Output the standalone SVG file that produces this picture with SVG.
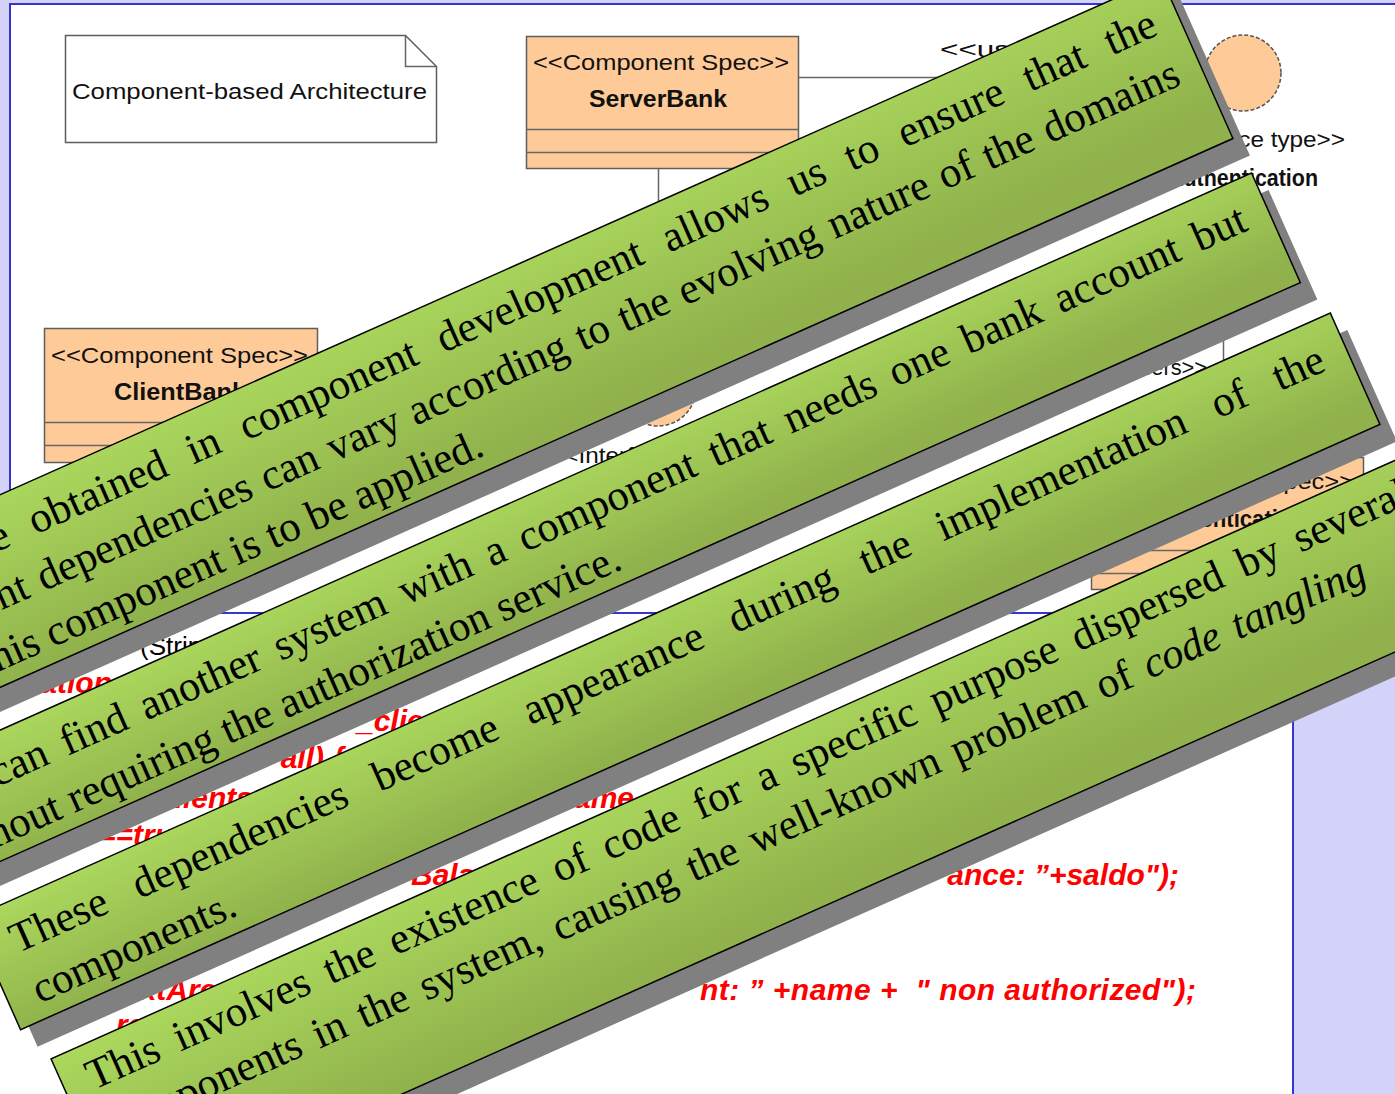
<svg xmlns="http://www.w3.org/2000/svg" width="1395" height="1094" viewBox="0 0 1395 1094">
  <defs>
    <linearGradient id="bannerFill" x1="0" y1="0" x2="0.25" y2="1">
      <stop offset="0" stop-color="#abd85d"/>
      <stop offset="1" stop-color="#90b14b"/>
    </linearGradient>
    <style>
      .panel{fill:#ffffff;stroke:#3535d0;stroke-width:2}
      .uml-box{fill:#fecb98;stroke:#5e5e5e;stroke-width:1.5}
      .uml-note{fill:#ffffff;stroke:#5e5e5e;stroke-width:1.5}
      .uml-line{stroke:#666666;stroke-width:1.5;fill:none}
      .iface{fill:#fecb98;stroke:#555555;stroke-width:1.5;stroke-dasharray:4 2}
      .ut{font-family:"Liberation Sans",Arial,sans-serif;font-size:22px;fill:#111111}
      .ub{font-family:"Liberation Sans",Arial,sans-serif;font-size:23px;font-weight:bold;fill:#111111}
      .code{font-family:"Liberation Sans",Arial,sans-serif;font-size:30px;font-weight:bold;font-style:italic;fill:#ff0000}
      .code-plain{font-family:"Liberation Sans",Arial,sans-serif;font-size:26px;fill:#000000}
      .banner{fill:url(#bannerFill);stroke:#000000;stroke-width:1.5}
      .shadow{fill:#808080}
      .bt{font-family:"Liberation Serif","Times New Roman",serif;font-size:43px;fill:#000000}
    </style>
  </defs>

  <!-- slide background -->
  <rect x="0" y="0" width="1395" height="1094" fill="#d3d3f9"/>

  <!-- component diagram panel -->
  <rect class="panel" x="10" y="4" width="1400" height="609"/>

  <g id="note-architecture">
    <path class="uml-note" d="M65.5,35.5 H405.5 L436.5,66.5 V142.5 H65.5 Z"/>
    <path class="uml-line" d="M405.5,35.5 V66.5 H436.5"/>
    <text class="ut" x="72" y="99" textLength="355" lengthAdjust="spacingAndGlyphs">Component-based Architecture</text>
  </g>

  <g id="connectors">
    <line class="uml-line" x1="798.5" y1="77.5" x2="1205" y2="77.5"/>
    <text class="ut" x="940" y="57" textLength="140" lengthAdjust="spacingAndGlyphs">&lt;&lt;uses&gt;&gt;</text>
    <line class="uml-line" x1="658.5" y1="169" x2="658.5" y2="350"/>
    <line class="uml-line" x1="1223.5" y1="192" x2="1223.5" y2="457"/>
    <text class="ut" x="1207" y="375" text-anchor="end" textLength="105" lengthAdjust="spacingAndGlyphs">&lt;&lt;offers&gt;&gt;</text>
  </g>

  <g id="server-bank">
    <rect class="uml-box" x="526.5" y="36.5" width="272" height="132"/>
    <line class="uml-line" x1="526.5" y1="129.5" x2="798.5" y2="129.5"/>
    <line class="uml-line" x1="526.5" y1="152.5" x2="798.5" y2="152.5"/>
    <text class="ut" x="533" y="70" textLength="256" lengthAdjust="spacingAndGlyphs">&lt;&lt;Component Spec&gt;&gt;</text>
    <text class="ub" x="589" y="107" textLength="138" lengthAdjust="spacingAndGlyphs">ServerBank</text>
  </g>

  <g id="client-bank">
    <rect class="uml-box" x="44.5" y="328.5" width="273" height="134"/>
    <line class="uml-line" x1="44.5" y1="422.5" x2="317.5" y2="422.5"/>
    <line class="uml-line" x1="44.5" y1="445.5" x2="317.5" y2="445.5"/>
    <text class="ut" x="51" y="363" textLength="257" lengthAdjust="spacingAndGlyphs">&lt;&lt;Component Spec&gt;&gt;</text>
    <text class="ub" x="114" y="400" textLength="132" lengthAdjust="spacingAndGlyphs">ClientBank</text>
  </g>

  <g id="interface-authentication">
    <circle class="iface" cx="1243" cy="73" r="38"/>
    <text class="ut" x="1141" y="147" textLength="204" lengthAdjust="spacingAndGlyphs">&lt;&lt;Interface type&gt;&gt;</text>
    <text class="ub" x="1168" y="186" textLength="150" lengthAdjust="spacingAndGlyphs">Authentication</text>
  </g>

  <g id="interface-bank">
    <circle class="iface" cx="658" cy="388" r="38"/>
    <text class="ut" x="550" y="463" textLength="204" lengthAdjust="spacingAndGlyphs">&lt;&lt;Interface type&gt;&gt;</text>
  </g>

  <g id="authentication-component">
    <rect class="uml-box" x="1091.5" y="457.5" width="272" height="132"/>
    <line class="uml-line" x1="1091.5" y1="550.5" x2="1363.5" y2="550.5"/>
    <line class="uml-line" x1="1091.5" y1="573.5" x2="1363.5" y2="573.5"/>
    <text class="ut" x="1098" y="489" textLength="256" lengthAdjust="spacingAndGlyphs">&lt;&lt;Component Spec&gt;&gt;</text>
    <text class="ub" x="1150" y="527" textLength="155" lengthAdjust="spacingAndGlyphs">Authentication</text>
  </g>

  <!-- code panel -->
  <g id="code">
    <rect class="panel" x="-5" y="613" width="1298" height="500"/>
    <text class="code-plain" x="140" y="655">(String name) {</text>
    <text class="code" x="112" y="693" text-anchor="end">Authentication</text>
    <text class="code" x="357" y="731">_client</text>
    <text class="code" x="344" y="768" text-anchor="end">all) {</text>
    <text class="code" x="253" y="808" text-anchor="end">clients</text>
    <text class="code" x="634" y="808" text-anchor="end">name</text>
    <text class="code" x="98" y="845">==true</text>
    <text class="code" x="411" y="885">Balance</text>
    <text class="code" x="1179" y="885" text-anchor="end">ance: ”+saldo");</text>
    <text class="code" x="113" y="1000">textArea</text>
    <text class="code" x="700" y="1000" textLength="496" xml:space="preserve">nt: ” +name +  " non authorized");</text>
    <text class="code" x="116" y="1035">return;</text>
  </g>

  <!-- rotated callouts -->
  <g id="banner-1">
    <rect class="shadow" transform="translate(17,17) rotate(-24)" x="-450" y="452" width="1520" height="176"/>
    <g transform="rotate(-24)">
      <rect class="banner" x="-450" y="452" width="1520" height="176"/>
      <text class="bt" x="-229" y="503" word-spacing="14">e obtained in component development allows us to ensure that the</text>
      <text class="bt" x="-247" y="558" word-spacing="2.4">nt dependencies can vary according to the evolving nature of the domains</text>
      <text class="bt" x="-276" y="613">his component is to be applied.</text>
    </g>
  </g>

  <g id="banner-2">
    <rect class="shadow" transform="translate(17,17) rotate(-24)" x="-450" y="667" width="1523" height="120"/>
    <g transform="rotate(-24)">
      <rect class="banner" x="-450" y="667" width="1523" height="120"/>
      <text class="bt" x="-323" y="718" word-spacing="6.8">can find another system with a component that needs one bank account but</text>
      <text class="bt" x="-350" y="773">hout requiring the authorization service.</text>
    </g>
  </g>

  <g id="banner-3">
    <rect class="shadow" transform="translate(17,17) rotate(-24)" x="-400" y="827" width="1488" height="122"/>
    <g transform="rotate(-24)">
      <rect class="banner" x="-400" y="827" width="1488" height="122"/>
      <text class="bt" x="-372" y="878" word-spacing="20.5">These dependencies become appearance during the implementation of the</text>
      <text class="bt" x="-372" y="933">components.</text>
    </g>
  </g>

  <g id="banner-4">
    <rect class="shadow" transform="translate(17,17) rotate(-24)" x="-384" y="988" width="1494" height="175"/>
    <g transform="rotate(-24)">
      <rect class="banner" x="-384" y="988" width="1494" height="175"/>
      <text class="bt" x="-358" y="1034" word-spacing="8">This involves the existence of code for a specific purpose dispersed by several</text>
      <text class="bt" x="-358" y="1088" word-spacing="4.8">components in the system, causing the well-known problem of <tspan font-style="italic">code tangling</tspan></text>
    </g>
  </g>
</svg>
